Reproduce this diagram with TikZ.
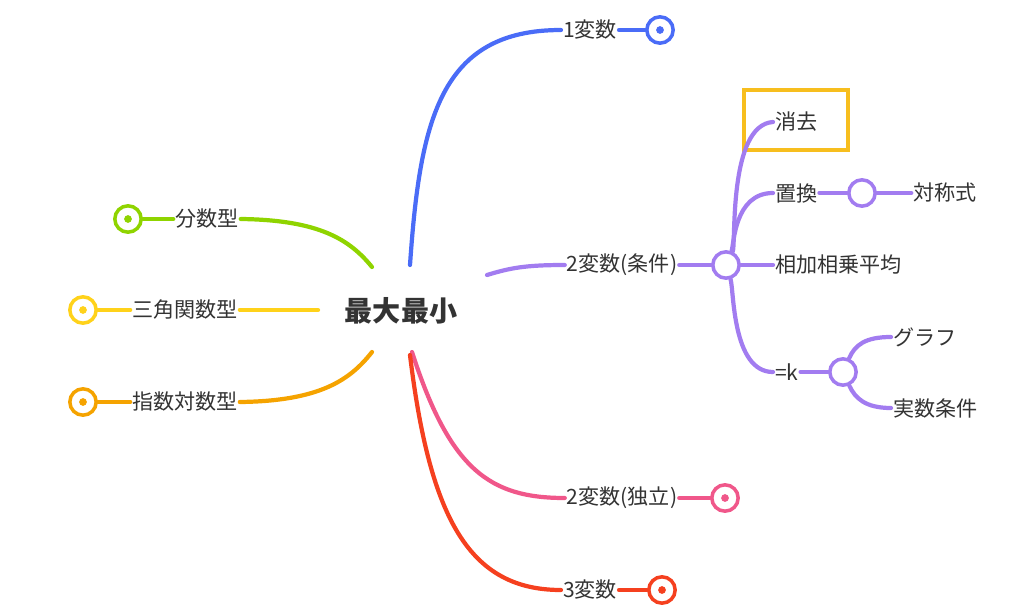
\documentclass[tikz,border=0pt]{standalone}
\usepackage{fontspec}
\newfontfamily\cjk{Noto Sans CJK JP}
\usetikzlibrary{positioning}
\definecolor{txt}{RGB}{51,51,51}
\definecolor{blu}{RGB}{74,108,247}
\definecolor{pur}{RGB}{162,124,240}
\definecolor{grn}{RGB}{143,212,0}
\definecolor{yel}{RGB}{255,210,26}
\definecolor{org}{RGB}{245,163,0}
\definecolor{pnk}{RGB}{240,87,138}
\definecolor{rd}{RGB}{245,64,31}
\definecolor{boxy}{RGB}{247,190,30}
\tikzset{
  lbl/.style={text=txt, font=\cjk\fontsize{12}{14}\selectfont, inner sep=1pt},
  branch/.style={line width=2.4pt, line cap=round},
  knob/.style={circle, draw=#1, line width=2pt, fill=white, minimum size=15pt, inner sep=0pt},
  dotknob/.style={knob=#1, path picture={\fill[#1] (path picture bounding box.center) circle (2.2pt);}},
}
\begin{document}
\begin{tikzpicture}[x=0.02cm,y=-0.02cm]
  \useasboundingbox (0,0) rectangle (1024,615);

  % centre
  \node[text=txt, font=\cjk\bfseries\fontsize{16}{18}\selectfont] (root) at (401,311) {最大最小};
  \coordinate (rootN) at (410,265);
  \coordinate (rootE) at (487,275);
  \coordinate (rootS) at (412,352);
  \coordinate (rootSS) at (410,355);
  \coordinate (rootNW) at (372,267);
  \coordinate (rootW) at (318,310);
  \coordinate (rootSW) at (372,352);

  % right side
  \node[lbl] (v1) at (590,30) {1変数};
  \node[dotknob=blu] (v1k) at (660,30) {};
  \draw[branch, blu] (rootN) .. controls (420,120) and (440,30) .. (v1.west);
  \draw[branch, blu] (v1.east) -- (v1k);

  \node[lbl] (v2c) at (622,265) {2変数(条件)};
  \node[knob=pur] (v2ck) at (726,265) {};
  \draw[branch, pur] (rootE) .. controls (510,268) and (525,265) .. (v2c.west);
  \draw[branch, pur] (v2c.east) -- (v2ck);

  \node[lbl, anchor=west] (del) at (773,122) {消去};
  \draw[boxy, line width=2pt] (744,90) rectangle (848,150);
  \node[lbl, anchor=west] (sub) at (773,193) {置換};
  \node[lbl, anchor=west] (amgm) at (773,265) {相加相乗平均};
  \node[lbl, anchor=west] (eqk) at (773,372) {=k};
  \draw[branch, pur] (v2ck) .. controls (736,245) and (728,125) .. (del.west);
  \draw[branch, pur] (v2ck) .. controls (734,245) and (734,193) .. (sub.west);
  \draw[branch, pur] (v2ck) -- (amgm.west);
  \draw[branch, pur] (v2ck) .. controls (734,290) and (732,372) .. (eqk.west);

  \node[knob=pur] (subk) at (862,193) {};
  \node[lbl] (sym) at (945,193) {対称式};
  \draw[branch, pur] (sub.east) -- (subk);
  \draw[branch, pur] (subk) -- (sym.west);

  \node[knob=pur] (eqkk) at (843,372) {};
  \node[lbl, anchor=west] (graph) at (891,337) {グラフ};
  \node[lbl, anchor=west] (real) at (891,408) {実数条件};
  \draw[branch, pur] (eqk.east) -- (eqkk);
  \draw[branch, pur] (eqkk) .. controls (855,345) and (865,337) .. (graph.west);
  \draw[branch, pur] (eqkk) .. controls (855,398) and (865,408) .. (real.west);

  \node[lbl] (v2i) at (622,498) {2変数(独立)};
  \node[dotknob=pnk] (v2ik) at (725,498) {};
  \draw[branch, pnk] (rootS) .. controls (450,470) and (490,498) .. (v2i.west);
  \draw[branch, pnk] (v2i.east) -- (v2ik);

  \node[lbl] (v3) at (590,590) {3変数};
  \node[dotknob=rd] (v3k) at (662,590) {};
  \draw[branch, rd] (rootSS) .. controls (430,520) and (470,590) .. (v3.west);
  \draw[branch, rd] (v3.east) -- (v3k);

  % left side
  \node[lbl] (frac) at (207,219) {分数型};
  \node[dotknob=grn] (frack) at (128,219) {};
  \draw[branch, grn] (frack) -- (frac.west);
  \draw[branch, grn] (frac.east) .. controls (320,220) and (350,240) .. (rootNW);

  \node[lbl] (trig) at (185,310) {三角関数型};
  \node[dotknob=yel] (trigk) at (83,310) {};
  \draw[branch, yel] (trigk) -- (trig.west);
  \draw[branch, yel] (trig.east) -- (rootW);

  \node[lbl] (expl) at (185,402) {指数対数型};
  \node[dotknob=org] (explk) at (83,402) {};
  \draw[branch, org] (explk) -- (expl.west);
  \draw[branch, org] (expl.east) .. controls (320,401) and (350,380) .. (rootSW);
\end{tikzpicture}
\end{document}
